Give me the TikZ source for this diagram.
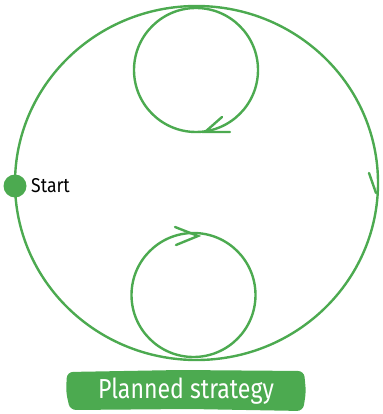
\documentclass[tikz,border=0pt]{standalone}
\usepackage{fontspec}
\setmainfont{Fira Sans}
\definecolor{lgreen}{RGB}{76,170,80}
\begin{document}
\begin{tikzpicture}[x=1pt,y=-1pt,
  loop/.style={draw=lgreen,line width=2.4pt},
  vtip/.style={draw=lgreen,line width=2.4pt,line cap=round},
  startdot/.style={circle,fill=lgreen,minimum size=23pt,inner sep=0pt},
  labelbox/.style={fill=lgreen}]
\useasboundingbox (0,0) rectangle (382,414);
% big loop
\draw[loop] (196.5,183) ellipse [x radius=181.5, y radius=177];
% top small loop
\draw[loop] (196,70) circle [radius=62];
% bottom small loop
\draw[loop] (193.5,295) circle [radius=62];
% arrowheads
\coordinate (t1) at (222,117);
\coordinate (t2) at (205,132);
\coordinate (t3) at (230,132);
\draw[vtip] (t1) -- (t2) -- (t3);
\coordinate (b1) at (175,227);
\coordinate (b2) at (198,236);
\coordinate (b3) at (176,245);
\draw[vtip] (b1) -- (b2) -- (b3);
\coordinate (r1) at (369,173);
\coordinate (r2) at (376,193);
\draw[vtip] (r1) -- (r2);
% start
\node[startdot] (start) at (15,186) {};
\node[anchor=west,inner sep=0pt,font=\fontsize{16}{18}\selectfont] (starttxt) at (31,186) {\scalebox{1.1}[1.25]{Start}};
% label
\fill[labelbox,rounded corners=6pt] (67,372) -- (180,370) -- (304,371) -- (306,392) -- (303,411) -- (190,409) -- (70,410) -- (66,392) -- cycle;
\node[text=white,inner sep=0pt,font=\fontsize{22}{24}\selectfont] (lbl) at (186,391) {\scalebox{1.05}[1.25]{Planned strategy}};
\end{tikzpicture}
\end{document}
